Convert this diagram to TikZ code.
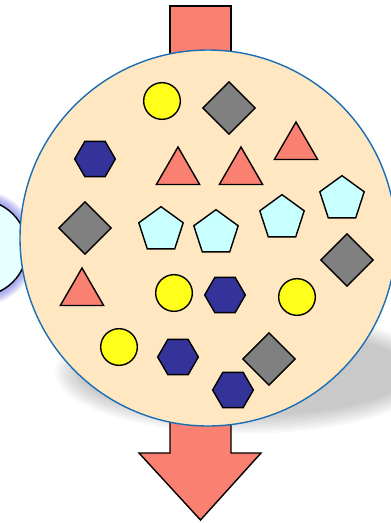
\documentclass[tikz,border=0pt]{standalone}
\usetikzlibrary{shapes.geometric}
\definecolor{discfill}{RGB}{255,231,194}
\definecolor{discline}{RGB}{26,110,181}
\definecolor{ballfill}{RGB}{255,255,26}
\definecolor{gemfill}{RGB}{128,128,128}
\definecolor{conefill}{RGB}{250,128,114}
\definecolor{hexfill}{RGB}{51,51,153}
\definecolor{penfill}{RGB}{200,255,255}
\definecolor{sidefill}{RGB}{230,255,255}
\definecolor{glowcol}{RGB}{90,90,220}

\begin{document}
\begin{tikzpicture}[
  yball/.style={circle,draw,fill=ballfill,line width=1.2pt,inner sep=0pt,minimum size=1.10cm},
  gem/.style={diamond,draw,fill=gemfill,line width=1.2pt,inner sep=0pt,minimum size=1.58cm},
  triang/.style={regular polygon,regular polygon sides=3,draw,fill=conefill,line width=1.2pt,inner sep=0pt,minimum size=1.50cm},
  hexa/.style={regular polygon,regular polygon sides=6,draw,fill=hexfill,line width=1.2pt,inner sep=0pt,minimum size=1.22cm},
  penta/.style={regular polygon,regular polygon sides=5,draw,fill=penfill,line width=1.2pt,inner sep=0pt,minimum size=1.40cm}]
\clip (0.000,0.000) rectangle (11.730,-15.690);
% shadow below the disc
\foreach \k in {0,...,9}
  \fill[black,opacity=0.025] (7.350,-11.160) ellipse ({5.700-0.080*\k} and {1.850-0.060*\k});
% side disc with its glow
\foreach \k in {0,...,7}
  \fill[glowcol,opacity=0.10] (-0.630,-7.440) circle ({1.440+0.300-0.040*\k});
\draw[fill=sidefill,line width=1.2pt] (-0.630,-7.440) circle (1.440);
% in and out arrows
\draw[fill=conefill,line width=1.2pt] (5.100,-0.180) rectangle (6.930,-2.400);
\draw[fill=conefill,line width=1.2pt] (5.100,-12.000) -- (5.100,-13.590) -- (4.170,-13.590) -- (6.015,-15.600)
  -- (7.830,-13.590) -- (6.930,-13.590) -- (6.930,-12.000) -- cycle;
% the disc
\draw[discline,fill=discfill,line width=1.2pt] (6.240,-7.140) circle (5.640);
% contents
\node[yball] (b1) at (4.860,-3.030) {};
\node[yball] (b2) at (5.220,-8.790) {};
\node[yball] (b3) at (8.910,-8.910) {};
\node[yball] (b4) at (3.570,-10.410) {};
\node[gem] (d1) at (6.870,-3.240) {};
\node[gem] (d2) at (2.550,-6.840) {};
\node[gem] (d3) at (10.410,-7.800) {};
\node[gem] (d4) at (8.070,-10.770) {};
\node[triang] (t1) at (8.880,-4.410) {};
\node[triang] (t2) at (5.340,-5.160) {};
\node[triang] (t3) at (7.230,-5.160) {};
\node[triang] (t4) at (2.460,-8.790) {};
\node[hexa] (h1) at (2.850,-4.770) {};
\node[hexa] (h2) at (6.750,-8.850) {};
\node[hexa] (h3) at (5.340,-10.710) {};
\node[hexa] (h4) at (6.990,-11.700) {};
\node[penta] (p1) at (4.830,-6.900) {};
\node[penta] (p2) at (6.480,-6.990) {};
\node[penta] (p3) at (8.460,-6.540) {};
\node[penta] (p4) at (10.260,-5.970) {};
\end{tikzpicture}
\end{document}
